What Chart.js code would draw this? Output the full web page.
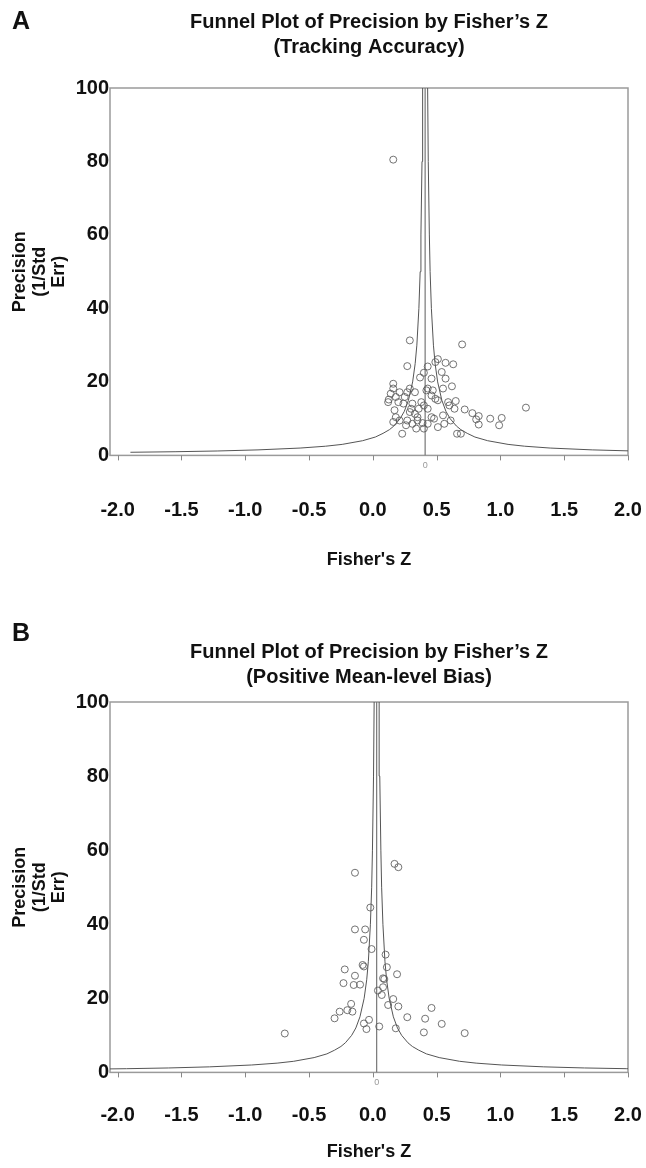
<!DOCTYPE html>
<html>
<head>
<meta charset="utf-8">
<script src="https://cdn.jsdelivr.net/npm/chart.js@4.4.0/dist/chart.umd.min.js"></script>
<style>
  body { margin: 0; background: #fff; width: 646px; height: 1168px; position: relative; overflow: hidden;
         font-family: 'Liberation Sans', Arial, sans-serif; }
  .panel { position: absolute; left: 0; width: 646px; }
  .tag { position: absolute; left: 12px; font-weight: bold; font-size: 25px; color: #111; }
</style>
</head>
<body>
<div class="panel" style="top:0;height:590px"><canvas id="chartA"></canvas></div>
<div class="panel" style="top:590px;height:578px"><canvas id="chartB"></canvas></div>
<div class="tag" style="top:6px">A</div>
<div class="tag" style="top:618px">B</div>
<script>
// tick labels
var xTicks = [-2.0, -1.5, -1.0, -0.5, 0.0, 0.5, 1.0, 1.5, 2.0];
var yTicks = [0, 20, 40, 60, 80, 100];

// funnel outline (precision, half width of the funnel at that precision)
var funnelPrec = [0.85, 1, 1.2, 1.5, 2, 2.5, 3, 4, 5, 6, 7, 8, 10, 12, 15, 20, 25, 30, 40, 50, 60, 80, 100];
var funnelHalf = [2.31, 1.96, 1.63, 1.31, 0.98, 0.78, 0.65, 0.49, 0.39, 0.33, 0.28, 0.245, 0.196, 0.163, 0.131, 0.098, 0.078, 0.065, 0.049, 0.039, 0.033, 0.0245, 0.0196];

// A: tracking accuracy
var centerA = 0.41;
var zA = [0.16, 0.29, 0.70, 0.27, 0.51, 0.49, 0.57, 0.63, 0.43, 0.54, 0.40, 0.57, 0.37, 0.46,
  0.16, 0.16, 0.29, 0.62, 0.55, 0.43, 0.47, 0.49, 0.51, 0.125, 0.12, 0.18, 0.20, 0.25, 0.24,
  0.31, 0.38, 0.40, 0.59, 0.65, 0.64, 0.72, 0.78, 0.83, 0.81, 0.92, 1.01, 0.99, 1.20, 0.83,
  0.66, 0.69, 0.17, 0.18, 0.16, 0.21, 0.27, 0.29, 0.33, 0.35, 0.34, 0.40, 0.23, 0.30, 0.36,
  0.43, 0.46, 0.48, 0.55, 0.56, 0.51, 0.61, 0.60, 0.46, 0.42, 0.33, 0.27, 0.14, 0.21, 0.35,
  0.39, 0.43, 0.31, 0.26];
var precA = [80.5, 31.3, 30.2, 24.3, 26.2, 25.4, 25.2, 24.8, 24.2, 22.7, 22.5, 20.9, 21.2, 20.9,
  19.5, 18.2, 18.2, 18.8, 18.2, 18.2, 17.7, 15.4, 15.0, 15.2, 14.5, 15.9, 14.5, 15.9, 14.1,
  14.1, 14.5, 13.6, 14.5, 14.8, 12.7, 12.5, 11.5, 10.7, 9.8, 10.0, 10.2, 8.2, 13.0, 8.4,
  5.9, 5.9, 12.3, 10.4, 9.1, 9.5, 9.5, 11.8, 11.3, 10.4, 7.3, 7.3, 5.9, 12.7, 12.7,
  12.7, 10.4, 10.0, 10.9, 8.6, 7.7, 9.5, 13.6, 16.3, 17.7, 17.2, 17.2, 16.8, 17.2, 9.5,
  8.8, 8.6, 8.6, 8.2];

// B: positive mean-level bias
var centerB = 0.03;
var zB = [-0.14, 0.17, 0.20, -0.02, -0.14, -0.06, -0.07, -0.01, 0.10, 0.11, 0.19, -0.08, -0.07,
  -0.22, -0.14, -0.23, -0.15, -0.10, 0.08, 0.09, 0.08, 0.04, 0.07, 0.16, 0.12, 0.20, -0.17,
  -0.16, -0.20, -0.26, -0.30, 0.27, 0.46, 0.41, 0.54, 0.40, 0.72, 0.18, 0.05, -0.03, -0.07,
  -0.05, -0.69];
var precB = [53.9, 56.3, 55.4, 44.5, 38.6, 38.6, 35.8, 33.3, 31.8, 28.4, 26.5, 29.0, 28.6,
  27.8, 26.1, 24.1, 23.6, 23.7, 25.4, 25.2, 23.0, 22.1, 20.9, 19.8, 18.2, 17.8, 18.5,
  16.4, 16.8, 16.4, 14.6, 14.9, 17.4, 14.5, 13.1, 10.8, 10.6, 11.9, 12.4, 14.2, 13.2,
  11.7, 10.5];

var font = "'Liberation Sans', Arial, sans-serif";

function pts(xs, ys) {
  return xs.map(function (x, i) { return { x: x, y: ys[i] }; });
}

function funnelSide(center, sign) {
  return funnelPrec.map(function (p, i) { return { x: center + sign * funnelHalf[i], y: p }; });
}

// plot frame, small axis ticks and the tiny "0" under the centre line
var framePlugin = {
  id: 'frame',
  beforeDatasetsDraw: function (chart, args, opts) {
    var a = chart.chartArea, c = chart.ctx, xs = chart.scales.x;
    c.save();
    c.strokeStyle = '#9a9a9a';
    c.lineWidth = 1.5;
    c.strokeRect(a.left, a.top, a.right - a.left, a.bottom - a.top);
    c.strokeStyle = '#888';
    c.lineWidth = 1;
    c.beginPath();
    xTicks.forEach(function (v) {
      var px = Math.round(xs.getPixelForValue(v)) + 0.5;
      c.moveTo(px, a.bottom);
      c.lineTo(px, a.bottom + 5);
    });
    c.stroke();
    c.fillStyle = '#999';
    c.font = '9px ' + font;
    c.textAlign = 'center';
    c.fillText('0', xs.getPixelForValue(opts.center), a.bottom + 13);
    c.restore();
  }
};

function makeChart(id, title, center, xs, ys, lay) {
  var ctx = document.getElementById(id).getContext('2d');
  return new Chart(ctx, {
    type: 'scatter',
    data: {
      datasets: [{
        label: 'studies',
        data: pts(xs, ys),
        pointStyle: 'circle',
        pointRadius: 3.5,
        pointBorderWidth: 1,
        pointBorderColor: 'rgba(90,90,90,0.85)',
        pointBackgroundColor: 'rgba(0,0,0,0)'
      }, {
        type: 'line',
        data: funnelSide(center, -1),
        borderColor: '#555',
        borderWidth: 1,
        pointRadius: 0,
        tension: 0
      }, {
        type: 'line',
        data: funnelSide(center, 1),
        borderColor: '#555',
        borderWidth: 1,
        pointRadius: 0,
        tension: 0
      }, {
        type: 'line',
        data: [{ x: center, y: 0 }, { x: center, y: 100 }],
        borderColor: '#777',
        borderWidth: 1.2,
        pointRadius: 0
      }]
    },
    options: {
      responsive: true,
      maintainAspectRatio: false,
      animation: false,
      layout: { padding: { left: 0, right: 18, top: 0, bottom: 0 } },
      plugins: {
        legend: { display: false },
        tooltip: { enabled: false },
        frame: { center: center },
        title: {
          display: true,
          fullSize: false,
          text: title,
          color: '#111',
          font: { family: font, size: 20, weight: 'bold', lineHeight: 1.25 },
          padding: { top: lay.titleTop, bottom: lay.titleBottom }
        }
      },
      scales: {
        x: {
          type: 'linear',
          min: -2.06,
          max: 2.0,
          afterBuildTicks: function (s) { s.ticks = xTicks.map(function (v) { return { value: v }; }); },
          grid: { display: true, drawOnChartArea: false, tickLength: lay.xGap, tickColor: 'rgba(0,0,0,0)' },
          border: { display: false },
          ticks: {
            color: '#111',
            padding: 0,
            maxRotation: 0,
            font: { family: font, size: 20, weight: 'bold' },
            callback: function (v) { return Number(v).toFixed(1); }
          },
          title: {
            display: true,
            text: "Fisher's Z",
            color: '#111',
            font: { family: font, size: 18, weight: 'bold', lineHeight: 1.2 },
            padding: { top: lay.xtTop, bottom: lay.xtBottom }
          }
        },
        y: {
          min: 0,
          max: 100,
          afterBuildTicks: function (s) { s.ticks = yTicks.map(function (v) { return { value: v }; }); },
          afterFit: function (s) { s.width = 110; },
          grid: { display: false, drawTicks: false },
          border: { display: false },
          ticks: {
            color: '#111',
            padding: 1,
            font: { family: font, size: 20, weight: 'bold' }
          },
          title: {
            display: true,
            text: ['Precision', '(1/Std', 'Err)'],
            color: '#111',
            font: { family: font, size: 18, weight: 'bold', lineHeight: 1.1 },
            padding: { top: 10, bottom: 0 }
          }
        }
      }
    },
    plugins: [framePlugin]
  });
}

makeChart('chartA', ["Funnel Plot of Precision by Fisher\u2019s Z", '(Tracking Accuracy)'],
  centerA, zA, precA, { titleTop: 9.5, titleBottom: 28.5, xGap: 43, xtTop: 27, xtBottom: 19 });
makeChart('chartB', ["Funnel Plot of Precision by Fisher\u2019s Z", '(Positive Mean-level Bias)'],
  centerB, zB, precB, { titleTop: 50, titleBottom: 12, xGap: 31, xtTop: 14, xtBottom: 5 });
</script>
</body>
</html>
